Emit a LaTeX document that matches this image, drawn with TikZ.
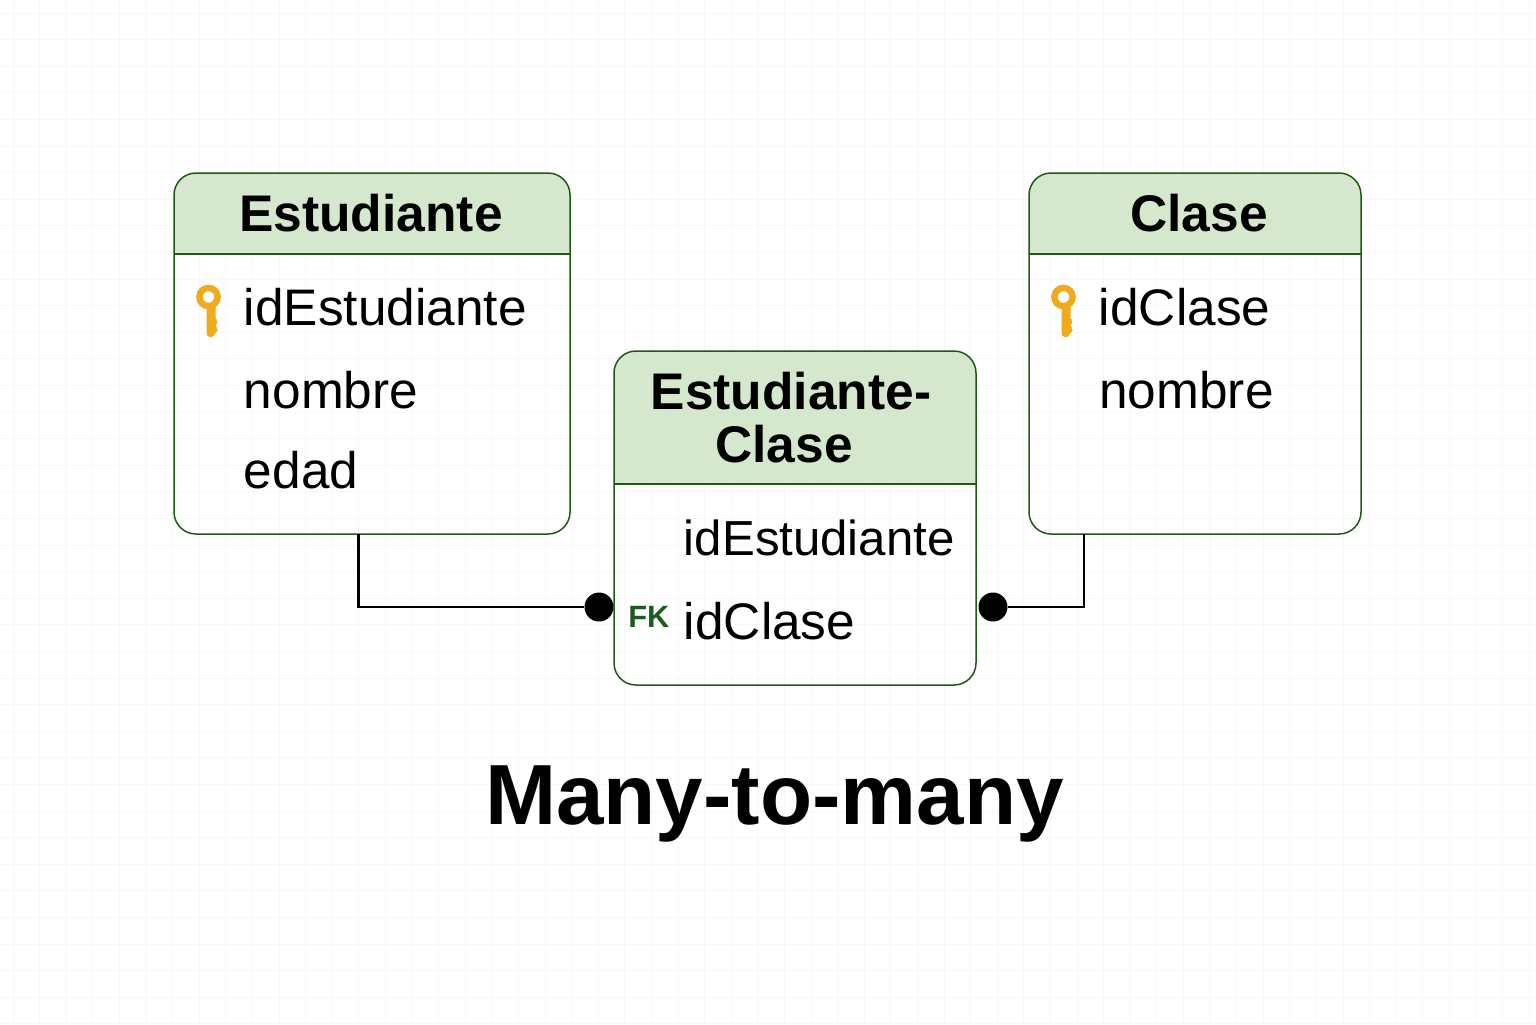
\documentclass[tikz,border=0pt]{standalone}
\usepackage{fontspec}
\setmainfont{Liberation Sans}
\definecolor{edgegreen}{HTML}{1F5A14}
\definecolor{headfill}{HTML}{D5E8CD}
\definecolor{keygold}{HTML}{F0AB1C}
\definecolor{fkgreen}{HTML}{1E5C1E}
\definecolor{gridgray}{HTML}{F7F7F7}
\tikzset{
  x=0.5pt,y=-0.5pt,
  tablebox/.style={draw=edgegreen,line width=0.75pt,rounded corners=11pt,inner sep=0pt},
  headerband/.style={path picture={
    \fill[headfill,sharp corners] (path picture bounding box.north west) rectangle ([yshift=-#1]path picture bounding box.north east);
    \draw[edgegreen,line width=0.6pt,sharp corners] ([yshift=-#1]path picture bounding box.north west) -- ([yshift=-#1]path picture bounding box.north east);}},
  title/.style={font=\fontsize{25.75}{30}\selectfont\bfseries,anchor=base,inner sep=0pt},
  field/.style={font=\fontsize{25.7}{30}\selectfont,anchor=base west,inner sep=0pt},
  fieldnarrow/.style={font=\fontsize{24.6}{30}\selectfont,anchor=base west,inner sep=0pt},
  fktag/.style={font=\fontsize{15.4}{18}\selectfont\bfseries,text=fkgreen,anchor=base west,inner sep=0pt},
  bigtitle/.style={font=\fontsize{42.7}{50}\selectfont\bfseries,anchor=base,inner sep=0pt},
  dotend/.style={circle,fill=black,minimum size=14.5pt,inner sep=0pt},
  link/.style={draw=black,line width=1.25pt},
  keyicon/.pic={
    \fill[keygold,even odd rule] (0,0) circle[radius=6.2pt] (0,0) circle[radius=2.9pt];
    \fill[keygold,rounded corners=0.8pt] (-2,8) -- (7,8) -- (7,23) -- (9,23) -- (9,26) -- (7,27) -- (7,30) -- (9,31) -- (9,35) -- (6,36) -- (5,40) -- (0,40) -- (-2,38) -- cycle;
  }
}
\begin{document}
\begin{tikzpicture}
\useasboundingbox (0,0) rectangle (1536,1024);
\fill[white] (0,0) rectangle (1536,1024);
\foreach \i in {0,...,57} {
  \draw[gridgray,line width=0.5pt] ({13+26.6*\i},0) -- ({13+26.6*\i},1024);
}
\foreach \i in {0,...,38} {
  \draw[gridgray,line width=0.5pt] (0,{13+26.6*\i}) -- (1536,{13+26.6*\i});
}
% tables
\node[tablebox,minimum width=198pt,minimum height=180.5pt,headerband=40.5pt] (est) at (372,353.5) {};
\node[tablebox,minimum width=166pt,minimum height=180.5pt,headerband=40.5pt] (cla) at (1195,353.5) {};
\node[tablebox,minimum width=181pt,minimum height=167pt,headerband=66.5pt] (jn) at (795,518) {};
% connector ends
\node[dotend] (dotL) at (599,607) {};
\node[dotend] (dotR) at (993,607) {};
\coordinate (estOut) at (358.5,534);
\coordinate (claOut) at (1084,534);
\draw[link] (estOut) |- (dotL);
\draw[link] (claOut) |- (dotR);
% texts
\node[title] (tEst) at (371,231) {Estudiante};
\node[title] (tCla) at (1199,231) {Clase};
\node[title] (tJn1) at (791,409) {Estudiante-};
\node[title] (tJn2) at (784,462) {Clase};
\node[field] (f1) at (243.5,325) {idEstudiante};
\node[field] (f2) at (243.5,408) {nombre};
\node[field] (f3) at (243.5,488) {edad};
\node[field] (f4) at (1098.5,325) {idClase};
\node[field] (f5) at (1099,408) {nombre};
\node[fieldnarrow] (f6) at (683.5,555) {idEstudiante};
\node[field] (f7) at (683.5,639) {idClase};
\node[fktag] (fk) at (628,627) {FK};
\node[bigtitle] (big) at (774.5,824) {Many-to-many};
\pic at (208.5,297) {keyicon};
\pic at (1063.5,297) {keyicon};
\end{tikzpicture}
\end{document}
